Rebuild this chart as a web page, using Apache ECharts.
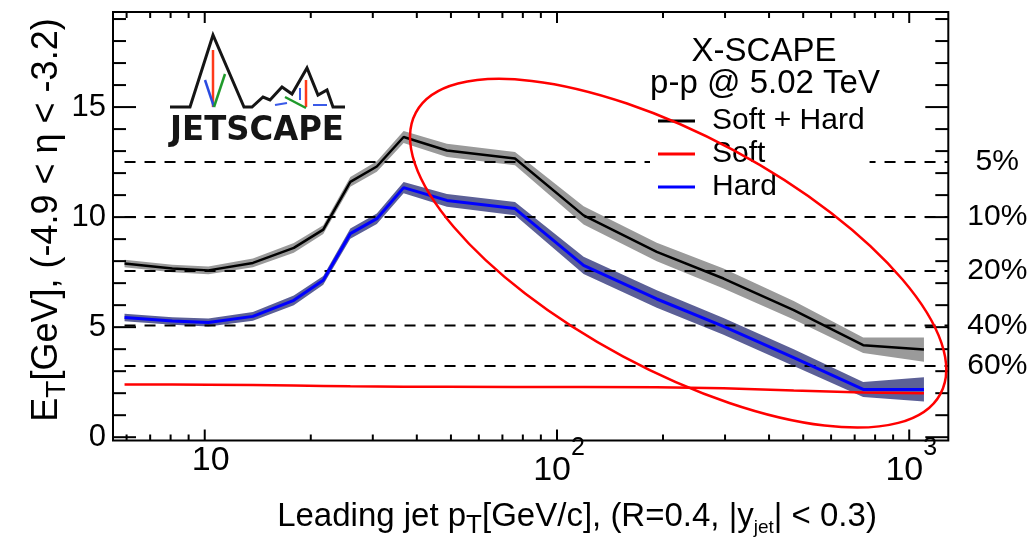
<!DOCTYPE html>
<html>
<head>
<meta charset="utf-8">
<script src="https://cdn.jsdelivr.net/npm/echarts@6/dist/echarts.min.js"></script>
<style>
  html, body { margin: 0; padding: 0; background: #fff; }
  #chart { width: 1036px; height: 541px; }
</style>
</head>
<body>
<div id="chart"></div>
<script>
// Leading-jet pT bin centres (GeV/c)
const jetPt = [5.92, 8.09, 10.24, 13.7, 17.9, 21.7, 25.9, 30.8, 36.7, 48.7, 76, 119, 192, 297, 470, 740, 1101];
// Forward transverse energy (GeV) per bin
const softHard    = [7.89, 7.66, 7.58, 7.92, 8.60, 9.43, 11.6, 12.3, 13.64, 13.03, 12.66, 10.08, 8.42, 7.21, 5.77, 4.18, 3.98];
const softHardErr = [0.17, 0.17, 0.18, 0.20, 0.22, 0.20, 0.22, 0.24, 0.27, 0.30, 0.30, 0.41, 0.42, 0.45, 0.42, 0.35, 0.55];
const hard        = [5.44, 5.28, 5.21, 5.49, 6.22, 7.13, 9.25, 9.93, 11.34, 10.76, 10.39, 7.81, 6.28, 5.04, 3.62, 2.17, 2.17];
const hardErr     = [0.17, 0.17, 0.18, 0.20, 0.22, 0.20, 0.23, 0.24, 0.26, 0.29, 0.30, 0.39, 0.40, 0.38, 0.38, 0.34, 0.55];
const soft        = [2.39, 2.39, 2.38, 2.37, 2.35, 2.33, 2.31, 2.30, 2.29, 2.29, 2.28, 2.28, 2.27, 2.22, 2.12, 2.03, 2.00];

// Centrality reference levels of E_T
const centralityLevels = [12.5, 10.0, 7.55, 5.07, 3.23];
const centralityLabels = ['5%', '10%', '20%', '40%', '60%'];

// Axis ranges and ticks
const X_MIN = 5.49, X_MAX = 1291;
const Y_MIN = -0.15, Y_MAX = 19.32;
const xMajorTicks = [10, 100, 1000];
const xMajorExp = ['', '2', '3'];
const xMinorTicks = [6, 7, 8, 9, 20, 30, 40, 50, 60, 70, 80, 90, 200, 300, 400, 500, 600, 700, 800, 900];
const yMajorTicks = [0, 5, 10, 15];
const yMinorTicks = [1, 2, 3, 4, 6, 7, 8, 9, 11, 12, 13, 14, 16, 17, 18, 19];

// Region of interest highlighted by the ellipse (data-space centre)
const highlightCentre = [220.8, 8.36];

const FONT = '"Liberation Sans", Arial, sans-serif';

const pairs = (ys) => jetPt.map((x, i) => [x, ys[i]]);

// Uncertainty band drawn as one polygon through the library's scales
function bandSeries(name, ys, es, color) {
  return {
    type: 'custom', name: name, silent: true, clip: true, z: 2,
    encode: { x: 0, y: 1 },
    data: jetPt.map((x, i) => [x, ys[i]]),
    renderItem: (params, api) => {
      if (params.dataIndex !== 0) return null;
      const upper = jetPt.map((x, i) => api.coord([x, ys[i] + es[i]]));
      const lowerPts = jetPt.map((x, i) => api.coord([x, ys[i] - es[i]])).reverse();
      return { type: 'polygon', shape: { points: upper.concat(lowerPts) },
               style: { fill: color, stroke: 'none' } };
    }
  };
}

const xTickData = xMajorTicks.map(v => [v, 1]).concat(xMinorTicks.map(v => [v, 0]));
const yTickData = yMajorTicks.map(v => [X_MIN, v, 1]).concat(yMinorTicks.map(v => [X_MIN, v, 0]));

const tickStyle = { stroke: '#000', lineWidth: 2 };

// Lay out a run of text pieces (text, font size, vertical offset) left to right
const measureCtx = document.createElement('canvas').getContext('2d');
function textRun(pieces) {
  let x = 0;
  const children = [];
  pieces.forEach(([t, size, dy]) => {
    const font = size + 'px ' + FONT;
    measureCtx.font = font;
    const w = measureCtx.measureText(t).width;
    children.push({ type: 'text', x: x, y: dy,
      style: { text: t, font: font, fill: '#000', align: 'left', verticalAlign: 'middle' } });
    x += w;
  });
  return { children, width: x };
}

const xTitle = textRun([
  ['Leading jet p', 33, 0], ['T', 26, 9], ['[GeV/c], (R=0.4, |y', 33, 0],
  ['jet', 19, 11], ['| < 0.3)', 33, 0]
]);
const yTitle = textRun([
  ['E', 36, 0], ['T', 28, 10], ['[GeV], (-4.9 < η < -3.2)', 36, 0]
]);

const option = {
  animation: false,
  backgroundColor: '#fff',
  grid: {
    left: 113, right: 87.7, top: 12, bottom: 100.5,
    show: true, borderColor: '#000', borderWidth: 2, backgroundColor: 'transparent',
    containLabel: false, outerBoundsMode: 'none'
  },
  xAxis: {
    type: 'log', logBase: 10, min: X_MIN, max: X_MAX,
    axisLine: { show: false }, axisTick: { show: false },
    axisLabel: { show: false }, splitLine: { show: false }, minorTick: { show: false }
  },
  yAxis: {
    type: 'value', min: Y_MIN, max: Y_MAX,
    axisLine: { show: false }, axisTick: { show: false },
    axisLabel: { show: false }, splitLine: { show: false }
  },
  legend: {
    data: ['Soft + Hard', 'Soft', 'Hard'],
    orient: 'vertical',
    left: 650, top: 104.5,
    padding: [0, 5, 0, 8],
    itemGap: 0,
    icon: 'rect',
    itemWidth: 37, itemHeight: 3,
    backgroundColor: '#fff',
    selectedMode: false,
    textStyle: { fontFamily: FONT, fontSize: 30, color: '#000', lineHeight: 33, padding: [0, 0, 0, 12] }
  },
  series: [
    { name: 'Soft', type: 'line', data: pairs(soft), symbol: 'none', showSymbol: false,
      lineStyle: { color: '#ff0000', width: 2.5 }, itemStyle: { color: '#ff0000' }, z: 2 },
    bandSeries('softHardBand', softHard, softHardErr, '#9a9a9a'),
    bandSeries('hardBand', hard, hardErr, '#5c6097'),
    {
      type: 'custom', name: 'centrality', silent: true, clip: false, z: 3,
      encode: { x: 0, y: 1 },
      data: centralityLevels.map(v => [jetPt[0], v]),
      renderItem: (params, api) => {
        const cs = params.coordSys;
        const p = api.coord([api.value(0), api.value(1)]);
        const right = cs.x + cs.width;
        return { type: 'group', children: [
          { type: 'line', shape: { x1: p[0], y1: p[1], x2: right, y2: p[1] },
            style: { stroke: '#000', lineWidth: 2, lineDash: [11, 9] } },
          { type: 'text', x: right + 49, y: p[1],
            style: { text: centralityLabels[params.dataIndex], font: '30px ' + FONT, fill: '#000',
                     align: 'center', verticalAlign: 'middle' } }
        ] };
      }
    },
    { name: 'Soft + Hard', type: 'line', data: pairs(softHard), symbol: 'none', showSymbol: false,
      lineStyle: { color: '#000', width: 2.5 }, itemStyle: { color: '#000' }, z: 4 },
    { name: 'Hard', type: 'line', data: pairs(hard), symbol: 'none', showSymbol: false,
      lineStyle: { color: '#0000ff', width: 3 }, itemStyle: { color: '#0000ff' }, z: 4 },
    {
      // x ticks on bottom and top edges, with decade labels
      type: 'custom', name: 'xTicks', silent: true, clip: false, z: 6,
      encode: { x: 0, y: 1 },
      data: xTickData,
      renderItem: (params, api) => {
        const cs = params.coordSys;
        const v = api.value(0);
        const major = api.value(1) === 1;
        const x = api.coord([v, 0])[0];
        const len = major ? 11 : 6;
        const bottom = cs.y + cs.height;
        const children = [
          { type: 'line', shape: { x1: x, y1: bottom, x2: x, y2: bottom - len }, style: tickStyle },
          { type: 'line', shape: { x1: x, y1: cs.y, x2: x, y2: cs.y + len }, style: tickStyle }
        ];
        if (major) {
          const exp = xMajorExp[params.dataIndex];
          if (!exp) {
            children.push({ type: 'text', x: x + 6, y: bottom + 20,
              style: { text: '10', font: '34px ' + FONT, fill: '#000', align: 'center', verticalAlign: 'middle' } });
          } else {
            children.push({ type: 'text', x: x + 14, y: bottom + 30,
              style: { text: '10', font: '34px ' + FONT, fill: '#000', align: 'right', verticalAlign: 'middle' } });
            children.push({ type: 'text', x: x + 14, y: bottom + 8,
              style: { text: exp, font: '25px ' + FONT, fill: '#000', align: 'left', verticalAlign: 'middle' } });
          }
        }
        return { type: 'group', children };
      }
    },
    {
      // y ticks on left and right edges, with labels on the left
      type: 'custom', name: 'yTicks', silent: true, clip: false, z: 6,
      encode: { x: 0, y: 1 },
      data: yTickData,
      renderItem: (params, api) => {
        const cs = params.coordSys;
        const v = api.value(1);
        const major = api.value(2) === 1;
        const y = api.coord([api.value(0), v])[1];
        const len = major ? 23 : 13;
        const right = cs.x + cs.width;
        const children = [
          { type: 'line', shape: { x1: cs.x, y1: y, x2: cs.x + len, y2: y }, style: tickStyle },
          { type: 'line', shape: { x1: right, y1: y, x2: right - len, y2: y }, style: tickStyle }
        ];
        if (major) {
          children.push({ type: 'text', x: cs.x - 7, y: y,
            style: { text: String(v), font: '31px ' + FONT, fill: '#000', align: 'right', verticalAlign: 'middle' } });
        }
        return { type: 'group', children };
      }
    }
  ],
  graphic: [
    // axis titles
    { type: 'group', x: 577 - xTitle.width / 2, y: 517, z: 50, children: xTitle.children },
    { type: 'group', x: 47, y: 220 + yTitle.width / 2, rotation: Math.PI / 2, z: 50, children: yTitle.children },
    // legend header
    { type: 'text', x: 764, y: 52, z: 50,
      style: { text: 'X-SCAPE', font: '33px ' + FONT, fill: '#000', align: 'center', verticalAlign: 'middle' } },
    { type: 'text', x: 765, y: 84, z: 50,
      style: { text: 'p-p @ 5.02 TeV', font: '33px ' + FONT, fill: '#000', align: 'center', verticalAlign: 'middle' } },
    // JETSCAPE logo
    {
      type: 'group', z: 60,
      children: [
        { type: 'polyline',
          shape: { points: [[170, 107], [190, 107], [213, 35], [244, 107], [252, 107], [263, 97], [270, 100],
                            [282, 87], [292, 94], [307, 68], [318, 95], [327, 90], [333, 107], [345, 107]] },
          style: { stroke: '#151515', lineWidth: 3, fill: 'none' } },
        { type: 'line', shape: { x1: 213, y1: 50, x2: 213, y2: 107 }, style: { stroke: '#ff3a1a', lineWidth: 2.5 } },
        { type: 'line', shape: { x1: 205, y1: 80, x2: 214, y2: 107 }, style: { stroke: '#2a4be0', lineWidth: 2.5 } },
        { type: 'line', shape: { x1: 225, y1: 74, x2: 214, y2: 107 }, style: { stroke: '#1f9a2a', lineWidth: 2.5 } },
        { type: 'line', shape: { x1: 306, y1: 80, x2: 306, y2: 107 }, style: { stroke: '#ff3a1a', lineWidth: 2.5 } },
        { type: 'line', shape: { x1: 285, y1: 97, x2: 306, y2: 108 }, style: { stroke: '#1f9a2a', lineWidth: 2.5 } },
        { type: 'line', shape: { x1: 275, y1: 105, x2: 287, y2: 103 }, style: { stroke: '#3a5ae8', lineWidth: 2 } },
        { type: 'line', shape: { x1: 300, y1: 88, x2: 300, y2: 100 }, style: { stroke: '#3a5ae8', lineWidth: 2 } },
        { type: 'line', shape: { x1: 313, y1: 105, x2: 327, y2: 105 }, style: { stroke: '#3a5ae8', lineWidth: 2 } },
        { type: 'text', x: 257, y: 131, scaleX: 0.95,
          style: { text: 'JETSCAPE', font: 'bold 34px "DejaVu Sans", sans-serif', fill: '#151515',
                   align: 'center', verticalAlign: 'middle' } }
      ]
    }
  ]
};

const chart = echarts.init(document.getElementById('chart'), null, { renderer: 'canvas' });
chart.setOption(option);

// Highlight ellipse around the high-pT region, anchored in data space
const ellipseCentre = chart.convertToPixel({ gridIndex: 0 }, highlightCentre);
chart.setOption({
  graphic: [{
    id: 'highlight', type: 'ellipse', z: 100,
    x: ellipseCentre[0], y: ellipseCentre[1], rotation: -0.492,
    shape: { cx: 0, cy: 0, rx: 297.6, ry: 117 },
    style: { fill: 'none', stroke: '#ff0000', lineWidth: 2.5 }
  }]
});
</script>
</body>
</html>
